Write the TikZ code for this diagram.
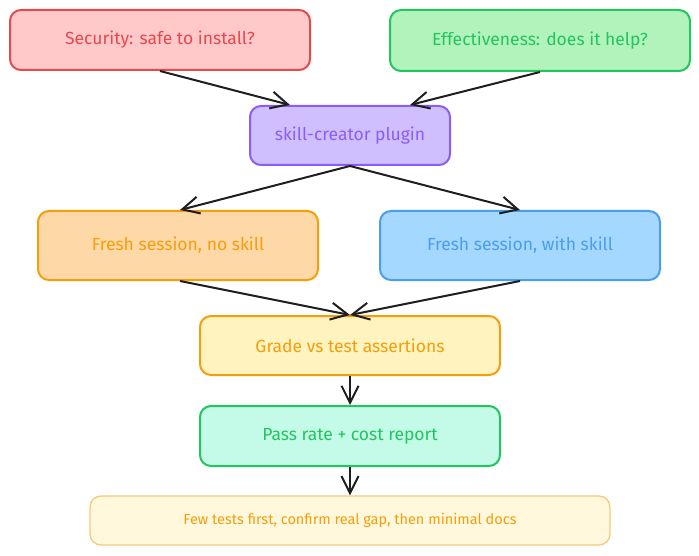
\documentclass[tikz,border=0pt]{standalone}
\usepackage{fontspec}
\setmainfont{Fira Sans}
\usetikzlibrary{arrows.meta,calc}
\definecolor{redS}{HTML}{E5484D}\definecolor{redF}{HTML}{FFC9C9}
\definecolor{grnS}{HTML}{22C55E}\definecolor{grnF}{HTML}{B2F2BB}
\definecolor{purS}{HTML}{8B5CF6}\definecolor{purF}{HTML}{D0BFFF}
\definecolor{orgS}{HTML}{F59E0B}\definecolor{orgF}{HTML}{FFD8A8}
\definecolor{bluS}{HTML}{4A9EED}\definecolor{bluF}{HTML}{A5D8FF}
\definecolor{ylwF}{HTML}{FFF3BF}
\definecolor{mntF}{HTML}{C3FAE8}
\definecolor{lstF}{HTML}{FFF8DC}\definecolor{lstS}{HTML}{F7C97A}
\definecolor{arr}{HTML}{1E1E1E}
\tikzset{
  box/.style={draw, line width=2pt, rounded corners=11pt, inner sep=0pt, align=center,
    font=\fontsize{17.5}{20}\selectfont},
  conn/.style={draw=arr, line width=2pt, -{Straight Barb[length=17pt,width=17pt,line width=2pt]}}
}
\begin{document}
\begin{tikzpicture}[x=1pt,y=-1pt]
\useasboundingbox (0,0) rectangle (699,556);
\node[box, draw=redS, fill=redF, text=redS, minimum width=300pt, minimum height=60pt] (sec) at (160,40) {Security: safe to install?};
\node[box, draw=grnS, fill=grnF, text=grnS, minimum width=300pt, minimum height=61pt] (eff) at (540,40.5) {Effectiveness: does it help?};
\node[box, draw=purS, fill=purF, text=purS, minimum width=200pt, minimum height=59pt] (plg) at (350,135.5) {skill-creator plugin};
\node[box, draw=orgS, fill=orgF, text=orgS, minimum width=280pt, minimum height=69pt] (nos) at (178,245.5) {Fresh session, no skill};
\node[box, draw=bluS, fill=bluF, text=bluS, minimum width=280pt, minimum height=69pt] (wis) at (520,245.5) {Fresh session, with skill};
\node[box, draw=orgS, fill=ylwF, text=orgS, minimum width=300pt, minimum height=59pt] (grd) at (350,345.5) {Grade vs test assertions};
\node[box, draw=grnS, fill=mntF, text=grnS, minimum width=300pt, minimum height=60pt] (pas) at (350,436) {Pass rate + cost report};
\node[box, draw=lstS, fill=lstF, text=orgS, line width=1.3pt, minimum width=520pt, minimum height=49pt, font=\fontsize{14.5}{17}\selectfont] (few) at (350,520.5) {Few tests first, confirm real gap, then minimal docs};
\draw[conn] (sec.south) -- ($(plg.north)+(-60,0)$);
\draw[conn] (eff.south) -- ($(plg.north)+(60,0)$);
\draw[conn] (plg.south) -- ($(nos.north)+(2,0)$);
\draw[conn] (plg.south) -- (wis.north);
\draw[conn] ($(nos.south)+(2,0)$) -- (grd.north);
\draw[conn] (wis.south) -- (grd.north);
\draw[conn] (grd.south) -- (pas.north);
\draw[conn] (pas.south) -- (few.north);
\end{tikzpicture}
\end{document}
